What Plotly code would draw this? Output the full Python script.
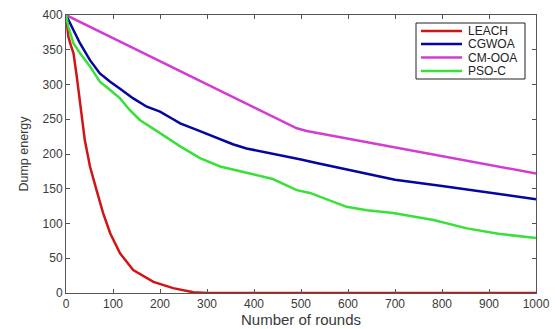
import plotly.graph_objects as go

# ---- data ----
leach_x = [0, 3, 5, 10, 16, 23, 30, 33, 40, 47, 51, 65, 79, 94, 115, 143, 186, 228, 271, 300, 1000]
leach_y = [400, 385, 369, 357, 345, 311, 273, 254, 220, 196, 182, 148, 115, 86, 57, 33, 16, 7, 1, 0, 0]

cgwoa_x = [0, 8, 16, 30, 51, 72, 94, 115, 143, 172, 200, 228, 243, 285, 313, 355, 384, 420, 455, 500,
           533, 600, 700, 800, 900, 1000]
cgwoa_y = [400, 388, 378, 359, 335, 316, 304, 294, 280, 268, 261, 250, 244, 233, 225, 214, 208, 203, 199, 192,
           187, 177, 163, 154, 144, 135]

cmooa_x = [0, 455, 491, 512, 540, 1000]
cmooa_y = [400, 249, 237, 233, 229.5, 172]

psoc_x = [0, 5, 16, 30, 51, 72, 94, 115, 136, 157, 200, 243, 285, 328, 391, 440, 491, 519, 597, 640, 696,
          782, 853, 923, 1000]
psoc_y = [400, 383, 359, 345, 326, 304, 292, 280, 263, 249, 230, 211, 194, 182, 172, 164, 148, 144, 124, 119, 115,
          105, 93, 85, 79]

series_names = ["LEACH", "CGWOA", "CM-OOA", "PSO-C"]
x_ticks = [0, 100, 200, 300, 400, 500, 600, 700, 800, 900, 1000]
y_ticks = [0, 50, 100, 150, 200, 250, 300, 350, 400]

colors = ["#d01515", "#0505a0", "#d23cd2", "#38e038"]
data = [(leach_x, leach_y), (cgwoa_x, cgwoa_y), (cmooa_x, cmooa_y), (psoc_x, psoc_y)]

FONT = "Liberation Sans, Arial"
TXT = "#3a3a3a"

fig = go.Figure()
for name, (xs, ys), col in zip(series_names, data, colors):
    fig.add_trace(go.Scatter(x=xs, y=ys, name=name, mode="lines", showlegend=False,
                             line=dict(color=col, width=2.5)))

axis_common = dict(showline=True, linecolor="#555555", linewidth=1, mirror="ticks",
                   ticks="inside", ticklen=4, tickcolor="#555555", showgrid=False, zeroline=False,
                   automargin=False,
                   tickfont=dict(family=FONT, size=12, color=TXT))

# plot area in pixels: left 66, right 536, top 15, bottom 293
PL, PR, PT, PB = 66, 536, 15, 293
def px2paper(xp, yp):
    return (xp - PL) / (PR - PL), (PB - yp) / (PB - PT)

# manual compact legend (MATLAB style)
shapes = []
annotations = []
x0, y0 = px2paper(416, 23)
x1, y1 = px2paper(525, 79)
shapes.append(dict(type="rect", xref="paper", yref="paper", x0=x0, y0=y1, x1=x1, y1=y0,
                   line=dict(color="#222222", width=1), fillcolor="white", layer="above"))
row_y = [31, 44, 57.5, 71]
for name, col, ry in zip(series_names, colors, row_y):
    lx0, ly = px2paper(421, ry)
    lx1, _ = px2paper(462, ry)
    shapes.append(dict(type="line", xref="paper", yref="paper", x0=lx0, x1=lx1, y0=ly, y1=ly,
                       line=dict(color=col, width=2.5), layer="above"))
    tx, _ = px2paper(466, ry)
    annotations.append(dict(text=name, xref="paper", yref="paper", x=tx, y=ly,
                            xanchor="left", yanchor="middle", showarrow=False,
                            font=dict(family=FONT, size=12, color="#222222")))

fig.update_layout(
    width=555, height=329,
    margin=dict(l=PL, r=555 - PR, t=PT, b=329 - PB),
    paper_bgcolor="white", plot_bgcolor="white",
    xaxis=dict(range=[0, 1000], tickvals=x_ticks, ticktext=[str(v) for v in x_ticks],
               title=dict(text="Number of rounds", standoff=0,
                          font=dict(family=FONT, size=15, color=TXT)),
               **axis_common),
    yaxis=dict(range=[0, 400], tickvals=y_ticks, ticktext=[str(v) for v in y_ticks],
               title=dict(text="Dump energy", standoff=11,
                          font=dict(family=FONT, size=12.5, color=TXT)),
               **axis_common),
    shapes=shapes,
    annotations=annotations,
    showlegend=False,
)

fig.write_html("out.html")
